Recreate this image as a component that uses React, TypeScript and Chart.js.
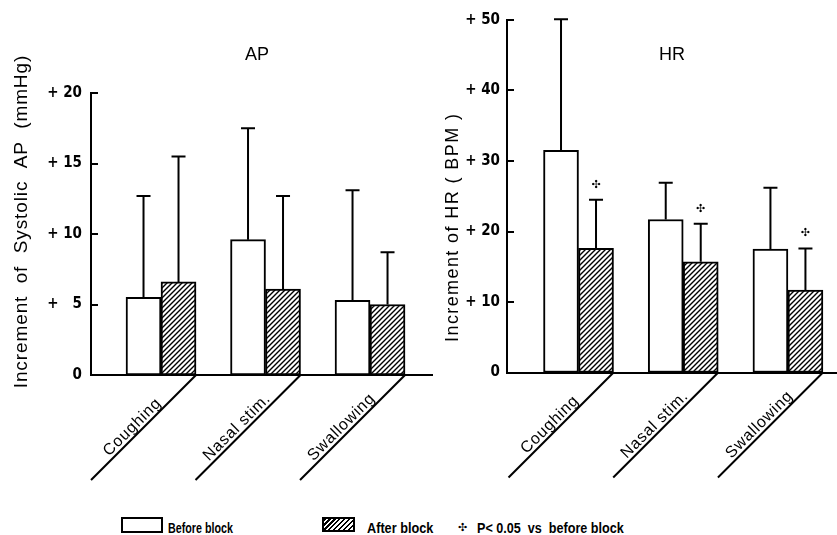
import React, { useEffect, useLayoutEffect, useRef } from 'react';
import { Chart, registerables } from 'chart.js';
Chart.register(...registerables);

// ---- data ----
const categories = ['Coughing', 'Nasal stim.', 'Swallowing'];
const apBefore = [5.5, 9.6, 5.3];
const apBeforeSD = [7.2, 7.9, 7.8];
const apAfter = [6.6, 6.1, 5.0];
const apAfterSD = [8.9, 6.6, 3.7];
const hrBefore = [31.5, 21.7, 17.5];
const hrBeforeSD = [18.6, 5.2, 8.7];
const hrAfter = [17.6, 15.7, 11.7];
const hrAfterSD = [6.9, 5.4, 5.9];
const apSignificant = [false, false, false];
const hrSignificant = [true, true, true];
const apTicks = { max: 20, step: 5 };
const hrTicks = { max: 50, step: 10 };

const NARROW = '"Liberation Sans Narrow", "DejaVu Sans Condensed", "Liberation Sans", sans-serif';
const SANS = '"Liberation Sans", Arial, sans-serif';

function makeHatch(ctx: CanvasRenderingContext2D) {
  const c = document.createElement('canvas');
  c.width = 5; c.height = 5;
  const g = c.getContext('2d')!;
  g.fillStyle = '#fff';
  g.fillRect(0, 0, 5, 5);
  g.strokeStyle = '#000';
  g.lineWidth = 1.4;
  g.beginPath();
  g.moveTo(-1, 6); g.lineTo(6, -1);
  g.moveTo(-1, 1); g.lineTo(1, -1);
  g.moveTo(4, 6); g.lineTo(6, 4);
  g.stroke();
  return ctx.createPattern(c, 'repeat');
}

function fmtTick(v: number) {
  if (v === 0) return '0';
  return v < 10 ? '+ \u2007' + v : '+ ' + v;
}

// draw text centred on (0,0) of the current transform, with manual letter spacing
function drawSpaced(ctx: CanvasRenderingContext2D, text: string, cx: number, cy: number, spacing: number) {
  const chars = Array.from(text);
  const widths = chars.map((c) => ctx.measureText(c).width);
  const total = widths.reduce((s, w) => s + w, 0) + spacing * (chars.length - 1);
  let x = cx - total / 2;
  ctx.textAlign = 'left';
  chars.forEach((c, i) => {
    ctx.fillText(c, x, cy);
    x += widths[i] + spacing;
  });
}

type PanelProps = {
  left: number; width: number; height: number;
  yMax: number; yStep: number; xMin: number; xMax: number;
  areaLeft: number; areaTop: number; areaRightPad: number; areaBottom: number;
  tickPad: number;
  title: string; titleX: number; titleY: number;
  axisTitle: string; axisTitleX: number; axisTitleY: number; axisTitleFont: string; axisTitleSpacing: number;
  before: number[]; beforeSD: number[]; after: number[]; afterSD: number[]; signif: boolean[];
};

function Panel(p: PanelProps) {
  const ref = useRef<HTMLCanvasElement>(null);
  useEffect(() => {
    const canvas = ref.current!;
    const hatch = makeHatch(canvas.getContext('2d')!);
    const decor = {
      id: 'decor',
      afterDraw(chart: any) {
        const { ctx, chartArea: a, scales } = chart;
        const y = scales.y;
        ctx.save();
        ctx.strokeStyle = '#000';
        ctx.fillStyle = '#000';
        ctx.lineWidth = 2;
        // inward tick marks
        y.ticks.forEach((t: any) => {
          const py = Math.round(y.getPixelForValue(t.value));
          ctx.beginPath();
          ctx.moveTo(a.left, py);
          ctx.lineTo(a.left + 7, py);
          ctx.stroke();
        });
        // error bars (upper only) + significance marks
        const sets: [number[], number[]][] = [[p.before, p.beforeSD], [p.after, p.afterSD]];
        sets.forEach(([m, sd], di) => {
          const meta = chart.getDatasetMeta(di);
          meta.data.forEach((el: any, j: number) => {
            const top = y.getPixelForValue(m[j] + sd[j]);
            ctx.beginPath();
            ctx.moveTo(el.x, el.y);
            ctx.lineTo(el.x, top);
            ctx.moveTo(el.x - 7, top);
            ctx.lineTo(el.x + 7, top);
            ctx.stroke();
            if (di === 1 && p.signif[j]) {
              ctx.font = '11px "DejaVu Sans", sans-serif';
              ctx.textAlign = 'center';
              ctx.textBaseline = 'middle';
              ctx.fillText('\u2723', el.x, top - 15);
            }
          });
        });
        // slanted category lines and labels
        const meta1 = chart.getDatasetMeta(1);
        const L = 105;
        meta1.data.forEach((el: any, j: number) => {
          const rx = el.x + el.width / 2;
          ctx.lineWidth = 2;
          ctx.beginPath();
          ctx.moveTo(rx, a.bottom);
          ctx.lineTo(rx - L, a.bottom + L);
          ctx.stroke();
          const mx = rx - L / 2, my = a.bottom + L / 2;
          ctx.save();
          ctx.translate(mx, my);
          ctx.rotate(-Math.PI / 4);
          ctx.font = '16px ' + SANS;
          ctx.textBaseline = 'middle';
          drawSpaced(ctx, categories[j], -8, -8, 0.8);
          ctx.restore();
        });
        // panel title
        ctx.font = '18px ' + SANS;
        ctx.textAlign = 'center';
        ctx.textBaseline = 'alphabetic';
        ctx.fillText(p.title, p.titleX, p.titleY);
        // y axis title
        ctx.save();
        ctx.translate(p.axisTitleX, p.axisTitleY);
        ctx.rotate(-Math.PI / 2);
        ctx.font = p.axisTitleFont;
        ctx.textBaseline = 'middle';
        drawSpaced(ctx, p.axisTitle, 0, 0, p.axisTitleSpacing);
        ctx.restore();
        ctx.restore();
      },
    };
    const chart = new Chart(canvas, {
      type: 'bar',
      data: {
        datasets: [
          {
            label: 'Before block',
            data: p.before.map((v, i) => ({ x: i + 1, y: v })),
            backgroundColor: '#fff',
            borderColor: '#000',
            borderWidth: 2,
            borderSkipped: false,
            barThickness: 35,
          },
          {
            label: 'After block',
            data: p.after.map((v, i) => ({ x: i + 1, y: v })),
            backgroundColor: hatch as any,
            borderColor: '#000',
            borderWidth: 2,
            borderSkipped: false,
            barThickness: 35,
          },
        ] as any,
      },
      options: {
        responsive: false,
        animation: false,
        devicePixelRatio: 1,
        layout: { padding: { left: 0, top: p.areaTop, right: p.areaRightPad, bottom: 0 } },
        plugins: { legend: { display: false }, tooltip: { enabled: false }, title: { display: false } },
        scales: {
          x: {
            type: 'linear',
            min: p.xMin,
            max: p.xMax,
            offset: false,
            ticks: { display: false },
            grid: { display: false, drawTicks: false },
            border: { display: true, color: '#000', width: 2 },
            afterFit: (s: any) => { s.height = p.height - p.areaBottom; },
          },
          y: {
            min: 0,
            max: p.yMax,
            ticks: {
              stepSize: p.yStep,
              padding: p.tickPad,
              color: '#000',
              font: { family: NARROW, size: 15, weight: 'bold' },
              callback: (v: any) => fmtTick(Number(v)),
            },
            grid: { display: false, drawTicks: false },
            border: { display: true, color: '#000', width: 2 },
            afterFit: (s: any) => { s.width = p.areaLeft; },
          },
        } as any,
      },
      plugins: [decor],
    });
    return () => chart.destroy();
  }, []);
  return (
    <canvas
      ref={ref}
      width={p.width}
      height={p.height}
      style={{ position: 'absolute', left: p.left, top: 0, width: p.width, height: p.height }}
    />
  );
}

const legendText: React.CSSProperties = {
  position: 'absolute',
  top: 520,
  fontFamily: SANS,
  fontWeight: 'bold',
  fontSize: 15,
  lineHeight: '15px',
  color: '#000',
  whiteSpace: 'pre',
  transformOrigin: 'left center',
};

function FitText({ text, left, width, style }: { text: string; left: number; width: number; style?: React.CSSProperties }) {
  const ref = useRef<HTMLSpanElement>(null);
  useLayoutEffect(() => {
    const el = ref.current!;
    const w = el.offsetWidth;
    if (w > 0) el.style.transform = `scaleX(${width / w})`;
  }, [text, width]);
  return <span ref={ref} style={{ ...legendText, left, ...style }}>{text}</span>;
}

export default function App() {
  return (
    <div style={{ position: 'absolute', left: 0, top: 0, width: 837, height: 535, background: '#fff', overflow: 'hidden' }}>
      <Panel
        left={0} width={435} height={490}
        yMax={apTicks.max} yStep={apTicks.step} xMin={0.33} xMax={3.593}
        areaLeft={91} areaTop={93} areaRightPad={3} areaBottom={375}
        tickPad={9}
        title="AP" titleX={257} titleY={60}
        axisTitle="Increment  of  Systolic  AP  (mmHg)" axisTitleX={22} axisTitleY={222}
        axisTitleFont={'19px ' + SANS} axisTitleSpacing={0.9}
        before={apBefore} beforeSD={apBeforeSD} after={apAfter} afterSD={apAfterSD} signif={apSignificant}
      />
      <Panel
        left={435} width={402} height={490}
        yMax={hrTicks.max} yStep={hrTicks.step} xMin={0.317} xMax={3.459}
        areaLeft={72} areaTop={20} areaRightPad={1} areaBottom={372.5}
        tickPad={7}
        title="HR" titleX={237} titleY={60}
        axisTitle="Increment of HR ( BPM )" axisTitleX={18} axisTitleY={228}
        axisTitleFont={'18px ' + SANS} axisTitleSpacing={1.4}
        before={hrBefore} beforeSD={hrBeforeSD} after={hrAfter} afterSD={hrAfterSD} signif={hrSignificant}
      />
      <div style={{ position: 'absolute', left: 121, top: 517, width: 38, height: 12, border: '2px solid #000', background: '#fff' }} />
      <FitText text="Before block" left={168} width={65} />
      <div
        style={{
          position: 'absolute', left: 322, top: 517, width: 29, height: 11, border: '2px solid #000',
          background: 'repeating-linear-gradient(135deg, #000 0px, #000 1.5px, #fff 1.5px, #fff 3.5px)',
        }}
      />
      <FitText text="After block" left={367} width={66} />
      <span style={{ ...legendText, left: 458, fontFamily: '"DejaVu Sans", sans-serif', fontWeight: 'normal', fontSize: 11 }}>{'\u2723'}</span>
      <FitText text={'P< 0.05  vs  before block'} left={477} width={147} />
    </div>
  );
}
